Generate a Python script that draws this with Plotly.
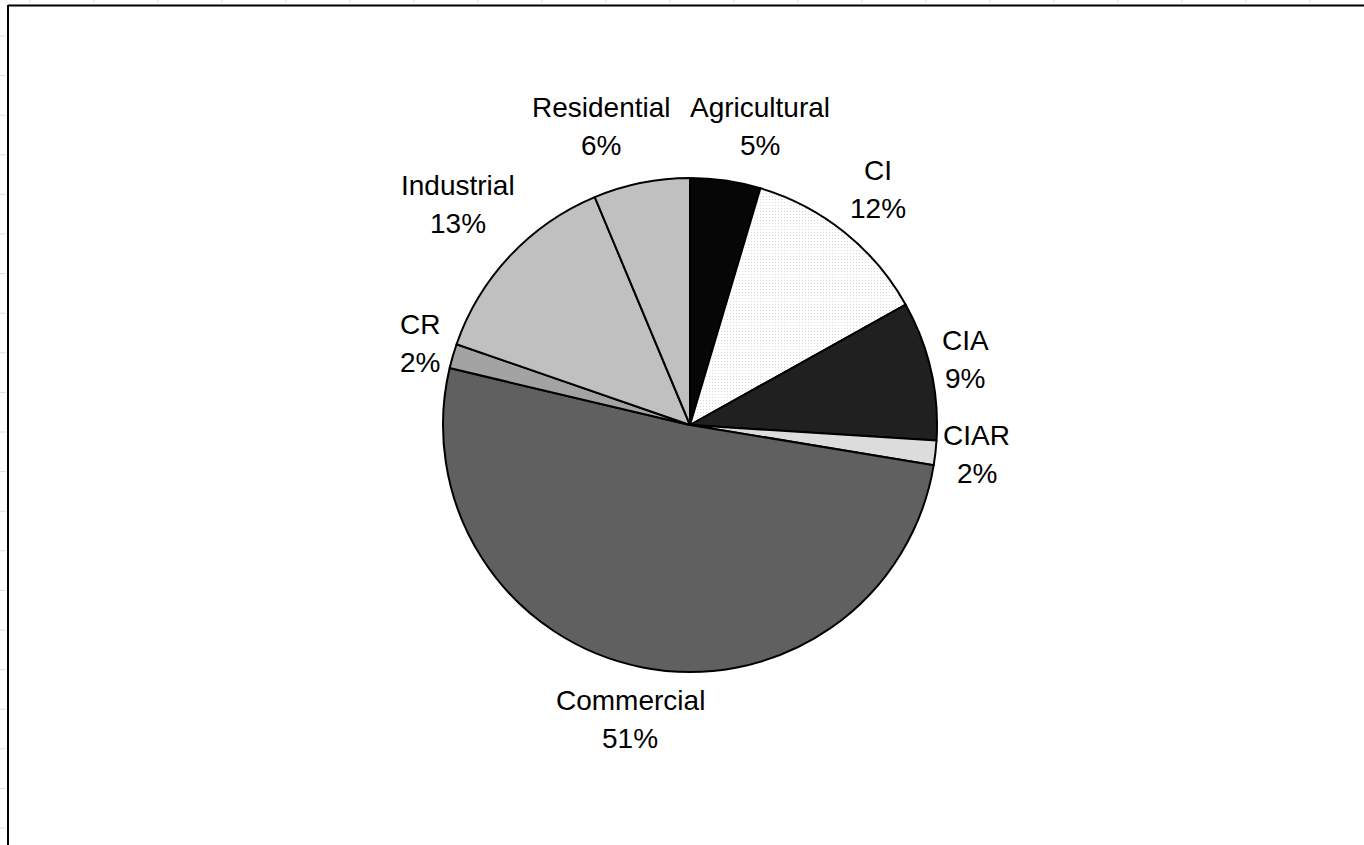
import math
import plotly.graph_objects as go

# Land-use shares (percent), listed clockwise from 12 o'clock
categories = ["Agricultural", "CI", "CIA", "CIAR", "Commercial", "CR", "Industrial", "Residential"]
shares = [4.6, 12.3, 9.1, 1.6, 51.1, 1.6, 13.4, 6.3]
slice_colors = ["#060606", "#f9f9f9", "#202020", "#dcdcdc", "#606060", "#a3a3a3", "#c0c0c0", "#c0c0c0"]
slice_patterns = ["", ".", "", "", "", "", "", ""]

W, H = 1364, 845
FONT = "Arial, Liberation Sans, sans-serif"
FONT_SIZE = 28

# pie placement in pixels
CX, CY, R = 690, 425, 247

fig = go.Figure()
fig.add_trace(go.Pie(
    labels=categories,
    values=shares,
    sort=False,
    direction="clockwise",
    rotation=0,
    marker=dict(
        colors=slice_colors,
        line=dict(color="#000000", width=2),
        pattern=dict(shape=slice_patterns, fgcolor="#d4d4d4", size=3, solidity=0.12),
    ),
    textinfo="none",
    domain=dict(x=[(CX - R) / W, (CX + R) / W], y=[1 - (CY + R) / H, 1 - (CY - R) / H]),
    showlegend=False,
    hoverinfo="label+percent",
))

# Approximate Arial advance widths (em) for label sizing
ADV = {
    "A": .667, "C": .722, "I": .278, "R": .722, "a": .556, "c": .5, "d": .556, "e": .556,
    "g": .556, "i": .222, "l": .222, "m": .833, "n": .556, "r": .333, "s": .5, "t": .278,
    "u": .556, "%": .889,
}


def text_width(s):
    return sum(ADV.get(ch, .556) for ch in s) * FONT_SIZE


total = sum(shares)
line_h = 38
gap = 4
baseline_shift = -3
boxes = []
cum = 0.0
for name, v in zip(categories, shares):
    mid = (cum + v / 2) / total * 2 * math.pi
    cum += v
    pct = f"{round(v / total * 100)}%"
    w = max(text_width(name), text_width(pct))
    h = 2 * line_h
    ux, uy = math.sin(mid), -math.cos(mid)
    ext = abs(ux) * w / 2 + abs(uy) * h / 2
    d = R + gap + ext
    boxes.append(dict(lines=[name, pct], x=CX + ux * d, y=CY + uy * d + baseline_shift, w=w, h=h))

# separate overlapping labels horizontally
for _ in range(20):
    moved = False
    for i in range(len(boxes)):
        for j in range(i + 1, len(boxes)):
            a, b = boxes[i], boxes[j]
            ox = (a["w"] + b["w"]) / 2 + 20 - abs(a["x"] - b["x"])
            oy = (a["h"] + b["h"]) / 2 - abs(a["y"] - b["y"])
            if ox > 0 and oy > 0:
                sgn = 1 if a["x"] >= b["x"] else -1
                a["x"] += sgn * ox / 2
                b["x"] -= sgn * ox / 2
                moved = True
    if not moved:
        break

annotations = []
for b in boxes:
    for k, line in enumerate(b["lines"]):
        ly = b["y"] + (k - 0.5) * line_h
        annotations.append(dict(
            text=line, x=b["x"] / W, y=1 - ly / H, xref="paper", yref="paper",
            xanchor="center", yanchor="middle", showarrow=False,
            font=dict(family=FONT, size=FONT_SIZE, color="#000000"),
        ))

shapes = []
# spreadsheet grid ticks peeking out around the chart area
grid_col = "#d6def5"
for k in range(21):
    x = 30 + 64 * k
    if x < W:
        shapes.append(dict(type="line", xref="paper", yref="paper",
                           x0=x / W, x1=x / W, y0=1, y1=1 - 3 / H,
                           line=dict(color=grid_col, width=1)))
for k in range(21):
    y = 36 + 39.6 * k
    if y < H:
        shapes.append(dict(type="line", xref="paper", yref="paper",
                           x0=0, x1=6 / W, y0=1 - y / H, y1=1 - y / H,
                           line=dict(color=grid_col, width=1)))
# chart area border (top and left edges)
shapes.append(dict(type="line", xref="paper", yref="paper",
                   x0=8 / W, x1=1, y0=1 - 5.5 / H, y1=1 - 5.5 / H,
                   line=dict(color="#000000", width=2)))
shapes.append(dict(type="line", xref="paper", yref="paper",
                   x0=8 / W, x1=8 / W, y0=1 - 5 / H, y1=0,
                   line=dict(color="#000000", width=2)))

fig.update_layout(
    width=W,
    height=H,
    margin=dict(l=0, r=0, t=0, b=0),
    paper_bgcolor="#ffffff",
    plot_bgcolor="#ffffff",
    shapes=shapes,
    annotations=annotations,
)

fig.write_html("out.html")
